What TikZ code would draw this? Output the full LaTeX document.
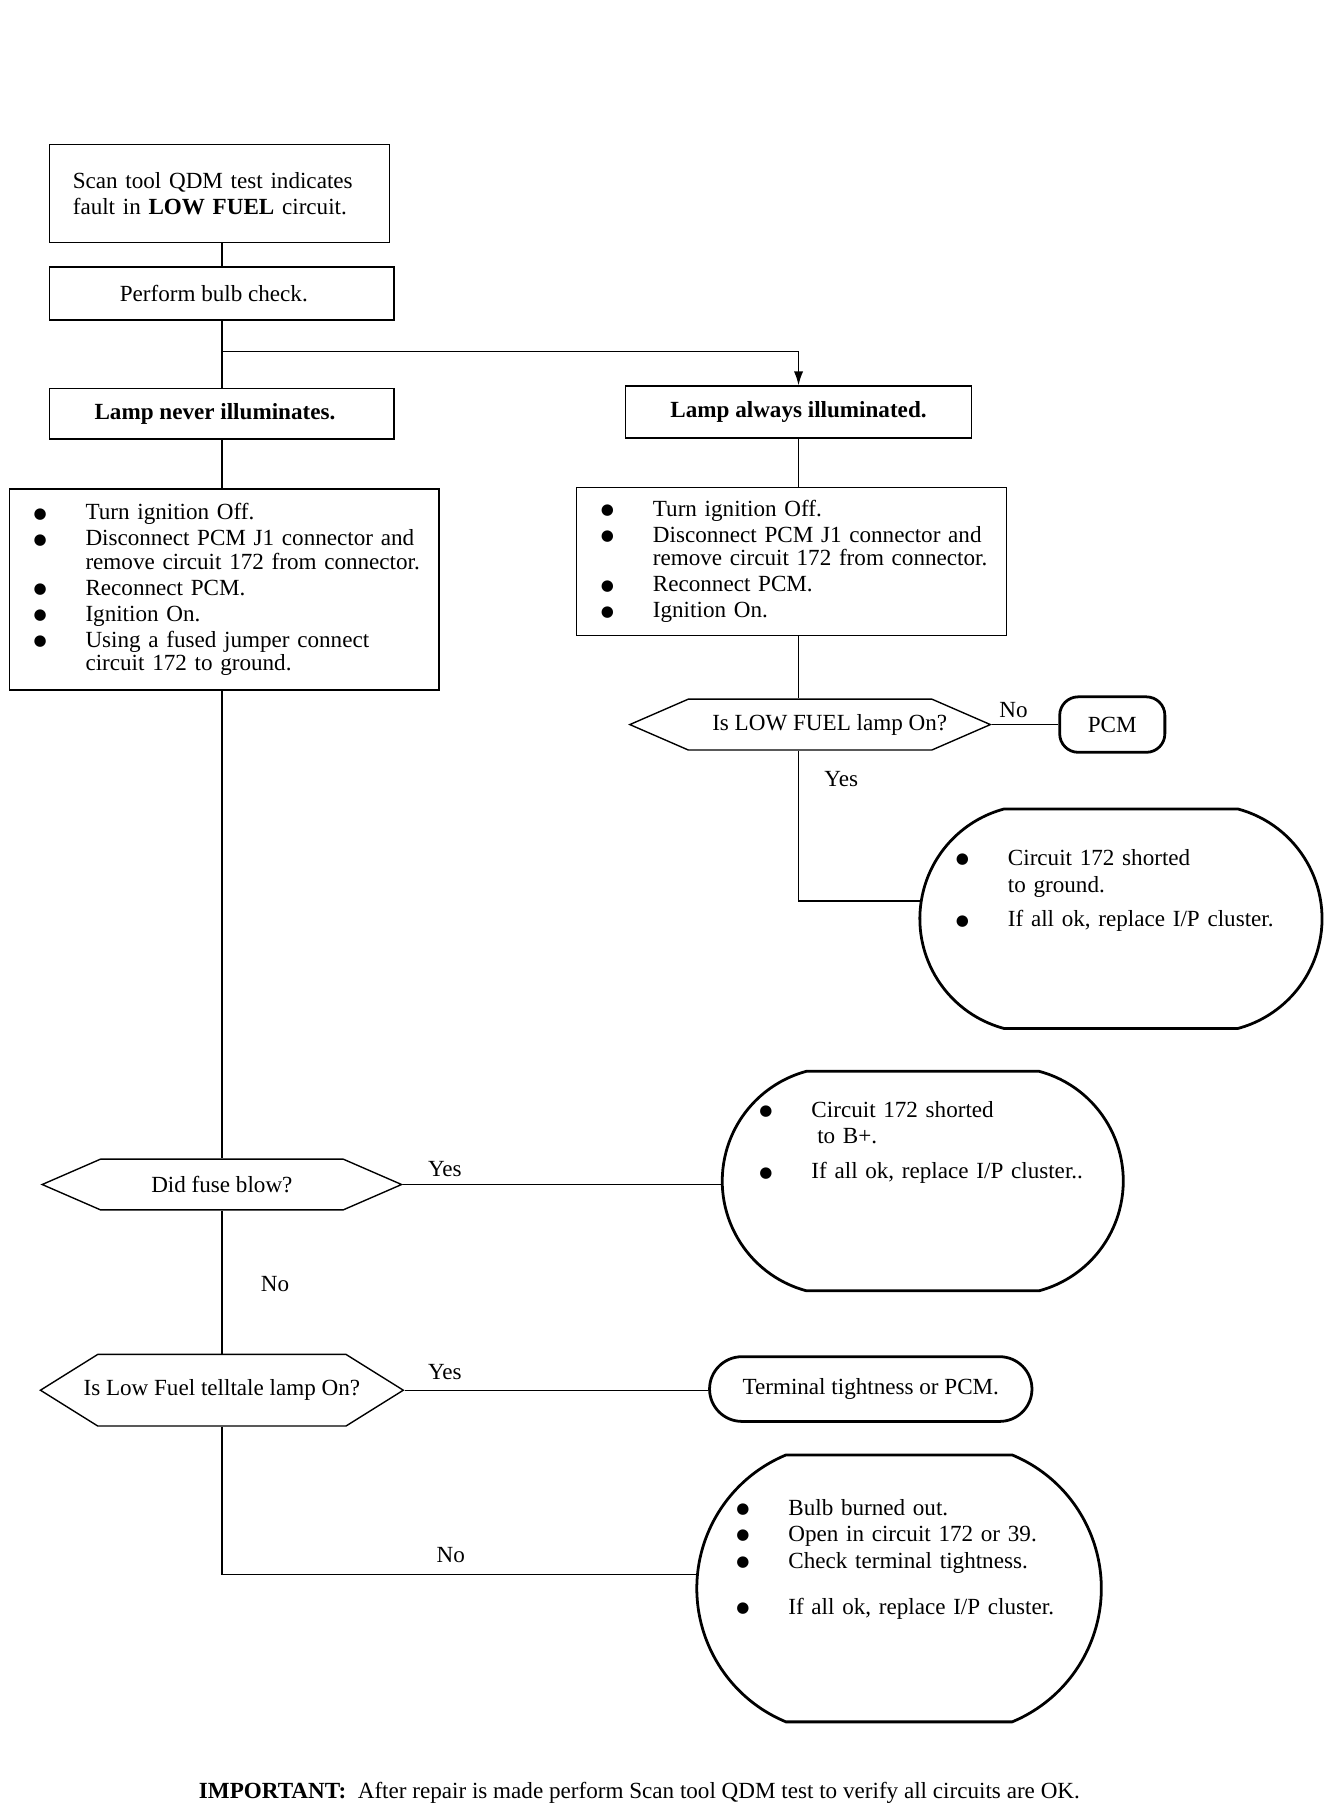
\documentclass[tikz,border=0pt]{standalone}
\usepackage{fontspec}
\setmainfont{Liberation Serif}
\newfontfamily\symfont{DejaVu Sans}
\usetikzlibrary{shapes.misc,shapes.symbols,arrows.meta}

\newcommand{\bl}[1]{\makebox[50pt][l]{\hspace{5pt}\raisebox{1.5pt}{\symfont\fontsize{13}{13}\selectfont ●}}\mbox{#1}}
\newcommand{\ind}[1]{\hspace*{50pt}\mbox{#1}}

\tikzset{
  txt/.style={font=\fontsize{20}{20}\selectfont},
  conn/.style={line width=1.2pt},
  stepbox/.style={txt,draw,line width=1.2pt,inner sep=0pt},
  listbox/.style={stepbox,align=left,text width=#1,inner xsep=16pt},
  listtext/.style={txt,anchor=north west,inner sep=0pt,align=left,text width=320pt},
  hexa/.style={txt,draw,line width=1.2pt,shape=signal,signal to=west and east,inner sep=0pt},
  endbox/.style={txt,draw,line width=2.4pt,shape=rounded rectangle,inner sep=0pt},
  lbl/.style={txt,inner sep=0pt}
}

\begin{document}
\begin{tikzpicture}[x=1pt,y=-1pt]
  \fill[white] (0,0) rectangle (1163,1568);

  \node[stepbox,align=left,text width=254pt,inner xsep=20pt,minimum height=85pt] (b1) at (190,167.5)
    {Scan tool QDM test indicates\\[2pt] fault in \textbf{LOW FUEL} circuit.};
  \node[stepbox,minimum width=298pt,minimum height=46pt] (b2) at (192,254) {Perform bulb check.\hspace*{14pt}};
  \node[stepbox,minimum width=298pt,minimum height=44pt] (b3) at (192,358) {\textbf{Lamp never illuminates.}\hspace*{12pt}};
  \node[stepbox,minimum width=299pt,minimum height=45pt] (b4) at (691,356.5) {\textbf{Lamp always illuminated.}};

  \node[listbox=340pt,minimum height=174pt] (b5) at (194,510)
    {\bl{Turn ignition Off.}\\[2.5pt]
     \bl{Disconnect PCM J1 connector and}\\
     \ind{remove circuit 172 from connector.}\\[2.5pt]
     \bl{Reconnect PCM.}\\[2.5pt]
     \bl{Ignition On.}\\[2.5pt]
     \bl{Using a fused jumper connect}\\
     \ind{circuit 172 to ground.}};
  \node[listbox=340pt,minimum height=128pt] (b6) at (685,486)
    {\bl{Turn ignition Off.}\\[2.5pt]
     \bl{Disconnect PCM J1 connector and}\\
     \ind{remove circuit 172 from connector.}\\[2.5pt]
     \bl{Reconnect PCM.}\\[2.5pt]
     \bl{Ignition On.}};

  \node[hexa,signal pointer angle=47,minimum width=312pt,minimum height=44pt] (d1) at (701,627)
    {\makebox[0pt]{\hspace*{34pt}Is LOW FUEL lamp On?}};
  \node[stepbox,line width=2.4pt,rounded corners=16pt,minimum width=91pt,minimum height=48pt] (pcm) at (962.5,627) {PCM};

  \node[endbox,minimum width=348pt,minimum height=190pt,rounded rectangle arc length=150] (o1) at (970,795) {};
  \node[listtext] (t1) at (822,735)
    {\bl{Circuit 172 shorted}\\[3pt]
     \ind{to ground.}\\[10pt]
     \bl{If all ok, replace I/P cluster.}};

  \node[hexa,signal pointer angle=47,minimum width=311pt,minimum height=44pt] (d2) at (192,1025)
    {\makebox[0pt]{Did fuse blow?}};
  \node[endbox,minimum width=347pt,minimum height=190pt,rounded rectangle arc length=150] (o2) at (798.5,1022) {};
  \node[listtext] (t2) at (652,953)
    {\bl{Circuit 172 shorted}\\[2pt]
     \hspace*{55pt}to B+.\\[11pt]
     \bl{If all ok, replace I/P cluster..}};

  \node[hexa,signal pointer angle=64,minimum width=314pt,minimum height=62pt] (d3) at (192,1203)
    {\makebox[0pt]{Is Low Fuel telltale lamp On?}};
  \node[endbox,minimum width=279pt,minimum height=56pt] (o3) at (753.5,1202) {Terminal tightness or PCM.};

  \node[endbox,minimum width=350pt,minimum height=231pt,rounded rectangle arc length=135] (o4) at (778,1374.5) {};
  \node[listtext] (t4) at (632,1297)
    {\bl{Bulb burned out.}\\[3pt]
     \bl{Open in circuit 172 or 39.}\\[3pt]
     \bl{Check terminal tightness.}\\[20pt]
     \bl{If all ok, replace I/P cluster.}};

  \node[lbl] (no1) at (877,614) {No};
  \node[lbl] (yes1) at (728,674) {Yes};
  \node[lbl] (yes2) at (385,1012) {Yes};
  \node[lbl] (no2) at (238,1111) {No};
  \node[lbl] (yes3) at (385,1187) {Yes};
  \node[lbl] (no3) at (390,1346) {No};

  \node[txt,anchor=west,inner sep=0pt] (note) at (172,1551)
    {\textbf{IMPORTANT:}\ \ After repair is made perform Scan tool QDM test to verify all circuits are OK.};

  \coordinate (split) at (192,304);
  \draw[conn] (b1.south -| b2.north) -- (b2.north);
  \draw[conn] (b2.south) -- (b3.north);
  \draw[conn,-{Latex[length=12pt,width=8pt]}] (split) -| (b4.north);
  \draw[conn] (b3.south) -- (b3.south |- b5.north);
  \draw[conn] (b4.south) -- (b4.south |- b6.north);
  \draw[conn] (b4.south |- b6.south) -- (b4.south |- d1.north);
  \draw[conn] (d1.east) -- (pcm.west);
  \draw[conn] (b4.south |- d1.south) |- (o1.175);
  \draw[conn] (b3.south |- b5.south) -- (d2.north);
  \draw[conn] (d2.east) -- (d2.east -| o2.west);
  \draw[conn] (d2.south) -- (d3.north);
  \draw[conn] (d3.east) -- (d3.east -| o3.west);
  \draw[conn] (d3.south) |- (o4.176);
\end{tikzpicture}
\end{document}
